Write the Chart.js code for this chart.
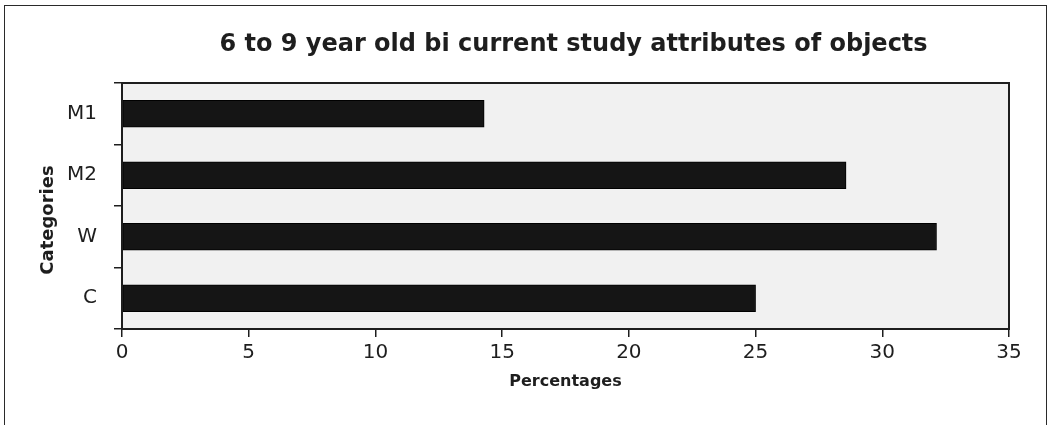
<!DOCTYPE html>
<html>
<head>
<meta charset="utf-8">
<script src="https://cdn.jsdelivr.net/npm/chart.js@4.4.1/dist/chart.umd.min.js"></script>
<style>
  html, body { margin: 0; padding: 0; background: #fff; }
  #wrap { position: relative; width: 1051px; height: 425px; overflow: hidden; }
  #frame { position: absolute; left: 4px; top: 5px; width: 1043px; height: 460px;
           border: 1.5px solid #2a2a2a; box-sizing: border-box; pointer-events: none; }
  canvas { position: absolute; left: 0; top: 0; }
</style>
</head>
<body>
<div id="wrap">
  <canvas id="chart" width="1051" height="425"></canvas>
  <div id="frame"></div>
</div>
<script>
// Share of responses per category (%)
const categories = ['M1', 'M2', 'W', 'C'];
const percentages = [14.29, 28.57, 32.14, 25.00];
const xTicks = [0, 5, 10, 15, 20, 25, 30, 35];

const chartTitle = '6 to 9 year old bi current study attributes of objects';
const yTitle = 'Categories';
const xTitle = 'Percentages';

const FONT = '"DejaVu Sans", Arial, sans-serif';
const INK = '#1e1e1e';

// Plot background, box outline and the free-standing texts
const decorations = {
  id: 'decorations',
  beforeDraw(chart) {
    const { ctx, chartArea: a } = chart;
    ctx.save();
    ctx.fillStyle = '#f1f1f1';
    ctx.fillRect(a.left, a.top, a.right - a.left, a.bottom - a.top);
    ctx.restore();
  },
  afterDraw(chart) {
    const { ctx, chartArea: a } = chart;
    ctx.save();
    ctx.strokeStyle = INK;
    ctx.lineWidth = 2;
    ctx.strokeRect(a.left, a.top, a.right - a.left, a.bottom - a.top);

    ctx.fillStyle = INK;
    ctx.textAlign = 'center';
    ctx.textBaseline = 'middle';
    ctx.font = 'bold 24px ' + FONT;
    ctx.fillText(chartTitle, (a.left + a.right) / 2 + 8, 45);

    ctx.translate(48, (a.top + a.bottom) / 2 + 14);
    ctx.rotate(-Math.PI / 2);
    ctx.font = 'bold 18px ' + FONT;
    ctx.fillText(yTitle, 0, 0);
    ctx.restore();
  }
};

new Chart(document.getElementById('chart'), {
  type: 'bar',
  data: {
    labels: categories,
    datasets: [{
      data: percentages,
      backgroundColor: '#151515',
      borderColor: '#000',
      borderWidth: 1,
      borderSkipped: false,
      barThickness: 27
    }]
  },
  options: {
    indexAxis: 'y',
    responsive: false,
    animation: false,
    devicePixelRatio: 1,
    layout: { padding: { top: 83, right: 42, left: 0, bottom: 0 } },
    plugins: {
      legend: { display: false },
      tooltip: { enabled: false },
      title: { display: false }
    },
    scales: {
      x: {
        min: 0,
        max: 35,
        afterBuildTicks(scale) { scale.ticks = xTicks.map(v => ({ value: v })); },
        afterFit(scale) { scale.height = 96; },
        border: { display: true, color: INK, width: 2 },
        grid: { drawOnChartArea: false, drawTicks: true, tickLength: 8, color: INK, lineWidth: 1.5 },
        ticks: { color: INK, padding: 4, maxRotation: 0, font: { family: FONT, size: 20 } },
        title: {
          display: true,
          text: xTitle,
          color: INK,
          font: { family: FONT, size: 16, weight: 'bold' },
          padding: { top: 0, bottom: 34 }
        }
      },
      y: {
        afterFit(scale) { scale.width = 122; },
        border: { display: true, color: INK, width: 2 },
        grid: { offset: true, drawOnChartArea: false, drawTicks: true, tickLength: 8, color: INK, lineWidth: 1.5 },
        ticks: { color: INK, padding: 17, font: { family: FONT, size: 20 } }
      }
    }
  },
  plugins: [decorations]
});
</script>
</body>
</html>
